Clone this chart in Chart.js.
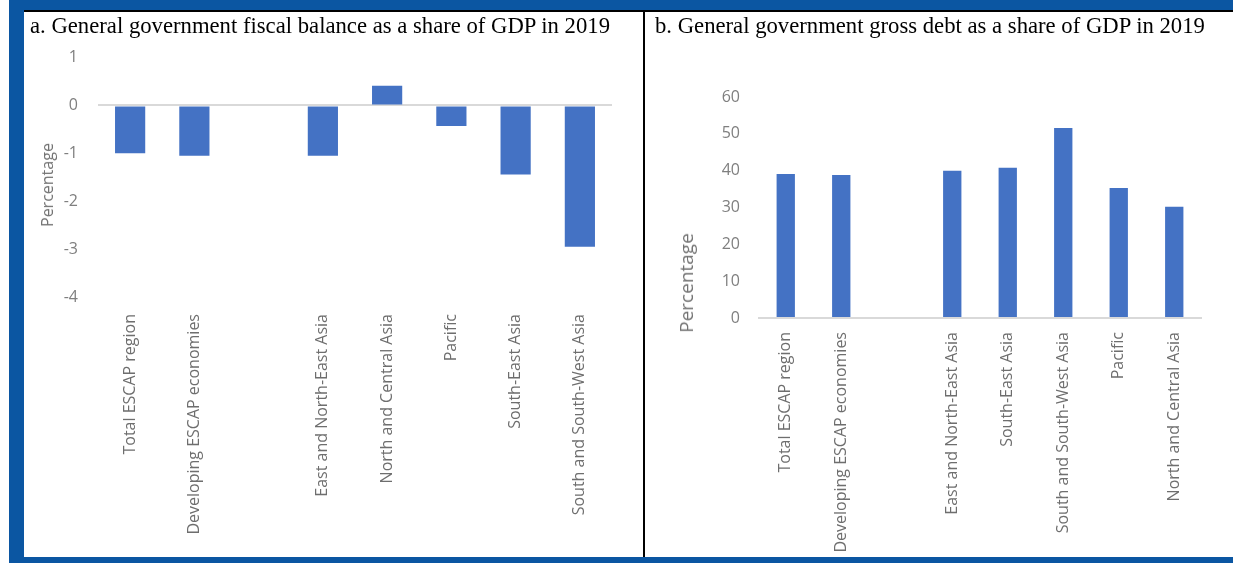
<!DOCTYPE html>
<html>
<head>
<meta charset="utf-8">
<script src="https://cdn.jsdelivr.net/npm/chart.js@4.4.1/dist/chart.umd.min.js"></script>
<style>
  html, body { margin: 0; padding: 0; background: #fff; }
  body { width: 1233px; height: 563px; position: relative; overflow: hidden; }
  .faixa { position: absolute; background: #0b56a2; }
  .linha { position: absolute; background: #000; }
  .titulo { position: absolute; font-family: "Liberation Serif", "Times New Roman", serif; font-size: 22.7px; line-height: 23px; color: #000; white-space: nowrap; }
  .eixo { position: absolute; font-family: "Open Sans", sans-serif; color: #737373; white-space: nowrap; transform: translate(-50%, -50%) rotate(-90deg); }
  canvas { position: absolute; }
</style>
</head>
<body>
<!-- moldura azul -->
<div class="faixa" style="left:9px; top:0; width:1224px; height:10px;"></div>
<div class="faixa" style="left:9px; top:0; width:15px; height:563px;"></div>
<div class="faixa" style="left:9px; top:557px; width:1224px; height:6px;"></div>
<div class="linha" style="left:24px; top:10px; width:1209px; height:2px;"></div>
<div class="linha" style="left:643px; top:12px; width:2px; height:545px;"></div>

<canvas id="saldo-fiscal" width="619" height="526" style="left:24px; top:28px;"></canvas>
<canvas id="divida-bruta" width="588" height="516" style="left:645px; top:40px;"></canvas>

<div class="titulo" style="left:30px; top:14px;">a. General government fiscal balance as a share of GDP in 2019</div>
<div class="titulo" style="left:655px; top:14px;">b. General government gross debt as a share of GDP in 2019</div>

<div class="eixo" style="left:47px; top:185px; font-size:16px;">Percentage</div>
<div class="eixo" style="left:686px; top:283px; font-size:19px;">Percentage</div>

<script>
// Dados do painel a: saldo fiscal (% do PIB)
const categoriasSaldo = ['Total ESCAP region', 'Developing ESCAP economies', '', 'East and North-East Asia',
    'North and Central Asia', 'Pacific', 'South-East Asia', 'South and South-West Asia'];
const valoresSaldo = [-1.0, -1.05, null, -1.05, 0.41, -0.43, -1.44, -2.95];
const ticksSaldo = [-4, 1, 1]; // min, max, passo

// Dados do painel b: dívida bruta (% do PIB)
const categoriasDivida = ['Total ESCAP region', 'Developing ESCAP economies', '', 'East and North-East Asia',
    'South-East Asia', 'South and South-West Asia', 'Pacific', 'North and Central Asia'];
const valoresDivida = [39.1, 38.8, null, 40.0, 40.8, 51.6, 35.3, 30.2];
const ticksDivida = [0, 60, 10];

const COR_BARRA = '#4472c4';
const COR_TEXTO = '#7f7f7f';

function criarGrafico(id, categorias, valores, ticks, layout) {
    const ctx = document.getElementById(id).getContext('2d');
    return new Chart(ctx, {
        type: 'bar',
        data: {
            labels: categorias,
            datasets: [{
                data: valores,
                backgroundColor: COR_BARRA,
                barPercentage: layout.barra,
                categoryPercentage: 1
            }]
        },
        options: {
            responsive: false,
            animation: false,
            layout: { padding: { top: layout.topo, right: layout.direita, left: 0, bottom: 0 } },
            plugins: { legend: { display: false }, tooltip: { enabled: false } },
            scales: {
                x: {
                    grid: { display: false, drawTicks: false },
                    border: { display: false },
                    ticks: {
                        autoSkip: false, minRotation: 90, maxRotation: 90,
                        padding: layout.padX, color: '#6e6e6e',
                        font: { family: 'Open Sans', size: 16 }
                    },
                    afterFit: s => { s.height = layout.alturaX; }
                },
                y: {
                    min: ticks[0], max: ticks[1],
                    border: { display: false },
                    grid: {
                        drawTicks: false, lineWidth: 2,
                        color: c => (c.tick && c.tick.value === 0) ? '#d9d9d9' : 'rgba(0,0,0,0)'
                    },
                    ticks: {
                        stepSize: ticks[2], padding: layout.padY, color: COR_TEXTO,
                        font: { family: 'Open Sans', size: 16 }
                    },
                    afterFit: s => { s.width = layout.larguraY; }
                }
            }
        }
    });
}

// Inicialização
criarGrafico('saldo-fiscal', categoriasSaldo, valoresSaldo, ticksSaldo,
    { barra: 0.47, topo: 7, direita: 31, alturaX: 257, larguraY: 74, padX: 17, padY: 20 });
criarGrafico('divida-bruta', categoriasDivida, valoresDivida, ticksDivida,
    { barra: 0.33, topo: 57, direita: 31, alturaX: 238, larguraY: 113, padX: 14, padY: 18 });
</script>
</body>
</html>
